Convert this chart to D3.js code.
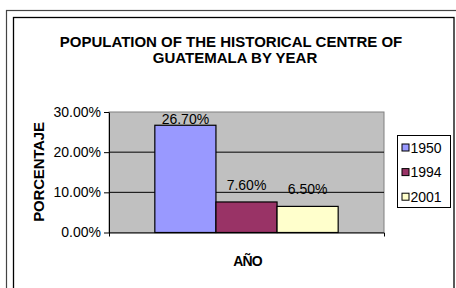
<!DOCTYPE html>
<html>
<head>
<meta charset="utf-8">
<script src="https://cdn.jsdelivr.net/npm/d3@7"></script>
<style>
  html, body { margin: 0; padding: 0; background: #fff; overflow: hidden; }
  svg { display: block; font-family: "Liberation Sans", Arial, sans-serif; }
</style>
</head>
<body>
<script>
(function(){

    var years = ["1950", "1994", "2001"];
    var values = [26.7, 7.6, 6.5];
    var yTicks = [0, 10, 20, 30];
    var colors = ["#9999ff", "#993366", "#ffffcc"];
    var group = [""];

    var width = 456, height = 288;

    var svg = d3.select("body").append("svg")
        .attr("width", width)
        .attr("height", height);

    svg.append("rect").attr("width", width).attr("height", height).attr("fill", "#fff");

    // outer and inner frames
    svg.append("rect")
        .attr("x", 6.5).attr("y", 10.5)
        .attr("width", 480).attr("height", 300)
        .attr("fill", "none").attr("stroke", "#444").attr("stroke-width", 1.2);

    svg.append("rect")
        .attr("x", 13.5).attr("y", 17.5)
        .attr("width", 440.5).attr("height", 300)
        .attr("fill", "none").attr("stroke", "#000").attr("stroke-width", 1.3);

    // title
    var title = svg.append("text")
        .attr("text-anchor", "middle")
        .attr("font-size", 15)
        .attr("font-weight", "bold");
    title.append("tspan").attr("x", 231).attr("y", 47).text("POPULATION OF THE HISTORICAL CENTRE OF");
    title.append("tspan").attr("x", 235).attr("y", 63).text("GUATEMALA BY YEAR");

    var plot = {left: 109, right: 384, top: 112, bottom: 232.5};

    var y = d3.scaleLinear()
        .domain([0, 30])
        .range([plot.bottom, plot.top]);

    var x0 = d3.scaleBand()
        .domain(group)
        .range([plot.left, plot.right])
        .paddingInner(0)
        .paddingOuter(0.25);

    var x1 = d3.scaleBand()
        .domain(years)
        .range([0, x0.bandwidth()]);

    var color = d3.scaleOrdinal().domain(years).range(colors);

    // plot background
    svg.append("rect")
        .attr("x", plot.left).attr("y", plot.top)
        .attr("width", plot.right - plot.left)
        .attr("height", plot.bottom - plot.top)
        .attr("fill", "#c0c0c0")
        .attr("stroke", "#808080")
        .attr("stroke-width", 1);

    // gridlines
    svg.selectAll(".grid")
        .data(yTicks.filter(function(d) { return d > 0 && d < 30; }))
        .enter().append("line")
        .attr("x1", plot.left).attr("x2", plot.right)
        .attr("y1", function(d) { return y(d); })
        .attr("y2", function(d) { return y(d); })
        .attr("stroke", "#000").attr("stroke-width", 1);

    // bars
    svg.selectAll(".bar")
        .data(years)
        .enter().append("rect")
        .attr("x", function(d) { return x0("") + x1(d); })
        .attr("y", function(d, i) { return y(values[i]); })
        .attr("width", x1.bandwidth())
        .attr("height", function(d, i) { return plot.bottom - y(values[i]); })
        .attr("fill", function(d) { return color(d); })
        .attr("stroke", "#000")
        .attr("stroke-width", 1.2);

    // data labels
    svg.selectAll(".lbl")
        .data(years)
        .enter().append("text")
        .attr("text-anchor", "middle")
        .attr("font-size", 14)
        .attr("x", function(d) { return x0("") + x1(d) + x1.bandwidth() / 2; })
        .attr("y", function(d, i) { return Math.max(y(values[i]) - 12, plot.top + 11.5); })
        .text(function(d, i) { return d3.format(".2f")(values[i]) + "%"; });

    // y axis
    var yAxis = d3.axisLeft(y)
        .tickValues(yTicks)
        .tickSizeInner(5)
        .tickSizeOuter(0)
        .tickPadding(3)
        .tickFormat(function(d) { return d3.format(".2f")(d) + "%"; });

    var gy = svg.append("g")
        .attr("transform", "translate(" + plot.left + ",0)")
        .call(yAxis);
    gy.selectAll("text")
        .attr("font-size", 14)
        .attr("font-family", "Liberation Sans, Arial, sans-serif")
        .attr("fill", "#000");
    gy.selectAll("line, path").attr("stroke", "#000");

    // x axis
    var xAxis = d3.axisBottom(x0)
        .tickSizeInner(0)
        .tickSizeOuter(4)
        .tickFormat("");

    var gx = svg.append("g")
        .attr("transform", "translate(0," + plot.bottom + ")")
        .call(xAxis);
    gx.selectAll("line, path").attr("stroke", "#000");

    // axis titles
    svg.append("text")
        .attr("transform", "translate(44,172) rotate(-90)")
        .attr("text-anchor", "middle")
        .attr("font-size", 15)
        .attr("font-weight", "bold")
        .attr("letter-spacing", -0.2)
        .text("PORCENTAJE");

    svg.append("text")
        .attr("x", 247.5).attr("y", 266)
        .attr("text-anchor", "middle")
        .attr("font-size", 14)
        .attr("font-weight", "bold")
        .attr("letter-spacing", -0.8)
        .text("AÑO");

    // legend
    var legend = svg.append("g");
    legend.append("rect")
        .attr("x", 397.5).attr("y", 135.5)
        .attr("width", 53).attr("height", 72)
        .attr("fill", "#fff").attr("stroke", "#000").attr("stroke-width", 1);

    var items = legend.selectAll(".item")
        .data(years)
        .enter().append("g")
        .attr("transform", function(d, i) { return "translate(0," + (152.5 + i * 24.6) + ")"; });

    items.append("rect")
        .attr("x", 402).attr("y", -8.5)
        .attr("width", 7).attr("height", 7)
        .attr("fill", function(d) { return color(d); })
        .attr("stroke", "#000").attr("stroke-width", 1);

    items.append("text")
        .attr("x", 410.5).attr("y", 0)
        .attr("font-size", 14)
        .text(function(d) { return d; });

})();
</script>
</body>
</html>
